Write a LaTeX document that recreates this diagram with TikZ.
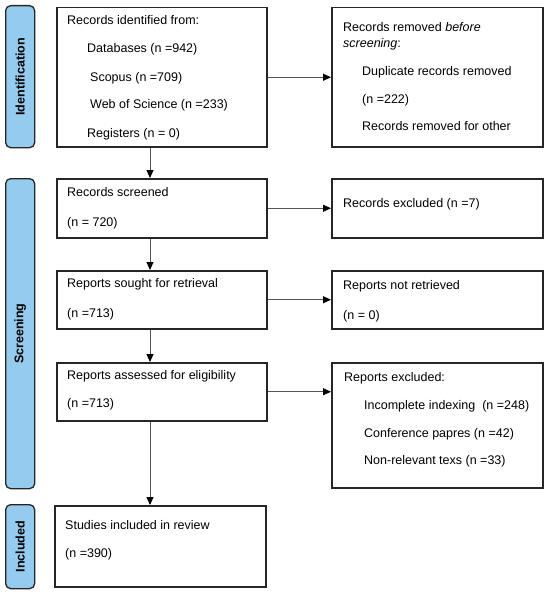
\documentclass[tikz,border=0pt]{standalone}
\usepackage{fontspec}
\setmainfont{Liberation Sans}
\usetikzlibrary{arrows.meta}

\definecolor{phaseblue}{HTML}{95CBEE}
\definecolor{linegray}{HTML}{555555}

\begin{document}
\begin{tikzpicture}[
  x=1pt, y=-1pt,
  font=\fontsize{12.5}{15}\selectfont,
  box/.style   = {draw=black!85, line width=1.5pt, anchor=north west, inner sep=0pt},
  phase/.style = {draw=black!85, fill=phaseblue, line width=1.3pt, rounded corners=5pt,
                  anchor=north west, inner sep=0pt, minimum width=29pt},
  plabel/.style = {rotate=90, font=\fontsize{12.5}{15}\selectfont\bfseries},
  txt/.style   = {anchor=base west, inner sep=0pt},
  arr/.style   = {-{Triangle[length=8pt, width=7pt, color=black]}, draw=linegray, line width=0.9pt},
]

\useasboundingbox (0,0) rectangle (550,594);

%% -- Phase bars ------------------------------------------------------------
\node[phase, minimum height=142pt] (pident) at (5,5) {};
\node[plabel] (lident) at (pident.center) {Identification};

\node[phase, minimum height=310pt] (pscreen) at (5,178) {};
\node[plabel] (lscreen) at (pscreen.center) {Screening};

\node[phase, minimum height=84pt] (pincl) at (5,504) {};
\node[plabel] (lincl) at (pincl.center) {Included};

%% -- Identification --------------------------------------------------------
\node[box, minimum width=210pt, minimum height=139pt] (ident) at (56,7) {};
\node[txt] (ident1) at (67,24.5)  {Records identified from:};
\node[txt] (ident2) at (87,52.5)  {Databases (n =942)};
\node[txt] (ident3) at (90,81.5)  {Scopus (n =709)};
\node[txt] (ident4) at (90,108.5) {Web of Science (n =233)};
\node[txt] (ident5) at (87,137.5) {Registers (n = 0)};

\node[box, minimum width=211pt, minimum height=139pt] (removed) at (331,7) {};
\node[txt] (removed1) at (343,31.5)  {Records removed \textit{before}};
\node[txt] (removed2) at (343,47.5)  {\textit{screening}:};
\node[txt] (removed3) at (362,75.5)  {Duplicate records removed};
\node[txt] (removed4) at (362,103.5) {(n =222)};
\node[txt] (removed5) at (362,130.5) {Records removed for other};

%% -- Screening -------------------------------------------------------------
\node[box, minimum width=210pt, minimum height=59pt] (screened) at (56,178) {};
\node[txt] (screened1) at (67,196.5) {Records screened};
\node[txt] (screened2) at (67,226.5) {(n = 720)};

\node[box, minimum width=211pt, minimum height=59pt] (recexcl) at (331,178) {};
\node[txt] (recexcl1) at (343,207.5) {Records excluded (n =7)};

\node[box, minimum width=210pt, minimum height=58pt] (sought) at (56,270) {};
\node[txt] (sought1) at (67,287.5) {Reports sought for retrieval};
\node[txt] (sought2) at (67,317.5) {(n =713)};

\node[box, minimum width=211pt, minimum height=58pt] (notret) at (331,270) {};
\node[txt] (notret1) at (343,289.5) {Reports not retrieved};
\node[txt] (notret2) at (343,319.5) {(n = 0)};

\node[box, minimum width=210pt, minimum height=58pt] (assessed) at (56,362) {};
\node[txt] (assessed1) at (67,379.5) {Reports assessed for eligibility};
\node[txt] (assessed2) at (67,407.5) {(n =713)};

\node[box, minimum width=211pt, minimum height=125pt] (repexcl) at (331,362) {};
\node[txt] (repexcl1) at (344,381.5) {Reports excluded:};
\node[txt] (repexcl2) at (364,409.5) {Incomplete indexing~ (n =248)};
\node[txt] (repexcl3) at (364,437.5) {Conference papres (n =42)};
\node[txt] (repexcl4) at (364,464.5) {Non-relevant texs (n =33)};

%% -- Included --------------------------------------------------------------
\node[box, minimum width=211pt, minimum height=81pt] (studies) at (54,505) {};
\node[txt] (studies1) at (65,529.5) {Studies included in review};
\node[txt] (studies2) at (65,557.5) {(n =390)};

%% -- Connectors ------------------------------------------------------------
\coordinate (arrx) at (150,0);
\draw[arr] (ident.south -| arrx)    -- (screened.north -| arrx);
\draw[arr] (screened.south -| arrx) -- (sought.north -| arrx);
\draw[arr] (sought.south -| arrx)   -- (assessed.north -| arrx);
\draw[arr] (assessed.south -| arrx) -- (studies.north -| arrx);

\draw[arr] (ident.east)    -- (removed.west);
\draw[arr] (screened.east) -- (recexcl.west);
\draw[arr] (sought.east)   -- (notret.west);
\draw[arr] (assessed.east) -- (assessed.east -| repexcl.west);

\end{tikzpicture}
\end{document}
